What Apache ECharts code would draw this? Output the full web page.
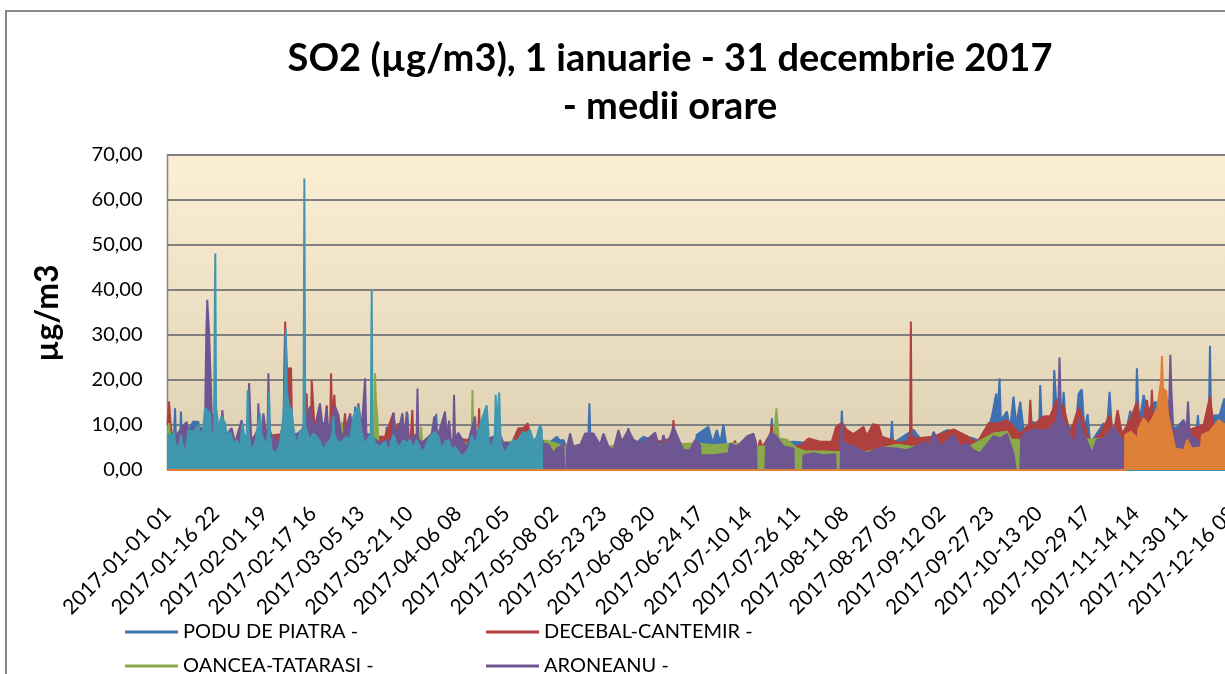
<!DOCTYPE html>
<html>
<head>
<meta charset="utf-8">
<script src="https://cdn.jsdelivr.net/npm/echarts@6/dist/echarts.min.js"></script>
<style>
  html, body { margin: 0; padding: 0; overflow: hidden; background: #fff; }
  #main { width: 1340px; height: 720px; }
</style>
</head>
<body>
<div id="main"></div>
<script>
// x = hours since 2017-01-01 01:00, y = µg/m3 (hourly means, key points)
var tickLabels = ['2017-01-01 01', '2017-01-16 22', '2017-02-01 19', '2017-02-17 16', '2017-03-05 13',
	'2017-03-21 10', '2017-04-06 08', '2017-04-22 05', '2017-05-08 02', '2017-05-23 23', '2017-06-08 20',
	'2017-06-24 17', '2017-07-10 14', '2017-07-26 11', '2017-08-11 08', '2017-08-27 05', '2017-09-12 02',
	'2017-09-27 23', '2017-10-13 20', '2017-10-29 17', '2017-11-14 14', '2017-11-30 11', '2017-12-16 08'];
var stationNames = ['PODU DE PIATRA -', 'DECEBAL-CANTEMIR -', 'OANCEA-TATARASI -', 'ARONEANU -', 'TOMESTI -', 'COPOU -'];

var poduDePiatra = [[0,6],[50,6],[59,13.7],[68,6],[98,6],[106,13],[115,6],[200,10.7],[243,10.7],[260,6],
	[1466,6],[1476,14.1],[1486,6],[1715,6],[1725,9.6],[1735,6],[1768,6],[1778,12.7],[1788,6],[1880,6],[1888,12.6],
	[1896,6],[2106,6],[2115,12.5],[2124,6],
	[2960,5],[3063,7.4],[3090,6.5],[3116,6.7],[3140,5],[3310,5],[3320,14.8],[3330,5],
	[3600,5],[3627,9.3],[3650,5],[3745,7.4],[3824,6.5],[3900,5],[4150,5],[4165,7.8],[4257,9.6],[4290,6],[4323,8.9],
	[4350,6],[4375,10],[4400,5],[4600,5],[4611,7.8],[4640,5],[4746,6],[4756,11.5],[4766,6],[4926,6.3],[5050,6],
	[5110,6],[5200,5.5],[5297,6],[5307,13.2],[5317,7],[5504,8.1],[5600,6],[5661,6.7],[5691,6],[5701,10.9],[5711,6],
	[5871,8.9],[5950,6],[6107,8.5],[6147,8.9],[6200,6],[6291,7.4],[6343,7],[6420,6],[6488,11.9],[6522,17],[6530,11],
	[6548,20.4],[6558,11],[6567,11],[6606,13],[6630,9],[6658,16.3],[6679,10],[6711,15.2],[6737,9],[6816,10.7],
	[6860,9],[6868,18.9],[6881,10],[6970,11],[6978,22.2],[6994,15],[7040,12],[7052,17.4],[7073,9],[7150,10],
	[7170,16.9],[7196,17.9],[7215,9],[7241,12.4],[7262,6],[7314,8.1],[7367,10.4],[7393,9],[7406,9],[7414,17.4],
	[7432,9],[7540,8],[7577,13.2],[7600,9],[7620,10],[7629,22.6],[7645,10],[7682,16.7],[7708,13],[7774,15.2],
	[7800,14],[7830,9],[7944,9.5],[7997,11.1],[8040,8],[8100,9],[8109,12.2],[8120,8],[8196,12],[8204,27.6],
	[8212,12],[8280,12.2],[8317,15.9],[8340,10],[8500,9],[8759,8]];

var decebalCantemir = [[0,10],[12,15.2],[25,10],[35,8],[46,6],[300,6],[915,8],[926,33],[933,33],[940,22],[956,22.6],
	[972,22.6],[980,10],[990,6],[1090,8],[1096,17],[1102,8],[1129,9],[1135,20],[1148,20.1],[1158,9],[1180,10.4],
	[1230,10.4],[1247,9],[1253,14.4],[1260,8],[1280,9],[1287,21.5],[1297,10],[1313,16.7],[1325,10],[1380,8],
	[1397,12.6],[1410,8],[1437,12.6],[1450,13],[1465,7],[1660,7.4],[1712,7.4],[1778,12.7],[1790,8],[1817,10.4],
	[1830,6],[1912,6],[1927,13.3],[1935,6],[2000,4.8],[2040,5.9],[2080,5.9],[2150,5],[2289,7],[2342,6.7],[2368,6.7],
	[2445,8],[2452,13.7],[2462,7],[2540,5.9],[2680,5.9],[2709,5.9],[2762,9.3],[2801,9.3],[2835,10.4],[2860,7],
	[2950,5],[3090,5],[3247,5.5],[3400,5],[3793,5.9],[3970,7],[3982,11.1],[3995,6],[4200,5],[4440,5],[4467,6.5],
	[4480,5],[4560,5],[4572,7.8],[4585,5],[4650,5],[4664,6.7],[4680,5],[4745,8],[4756,10],[4770,6],[4900,5],
	[4990,5.5],[5044,7],[5136,6.3],[5228,6.3],
	[5262,9.6],[5307,10.5],[5346,8.9],[5399,8],[5478,9.6],[5504,7.5],[5551,10.2],[5596,9.9],[5622,7.4],[5766,6],
	[5832,6.5],[5844,8],[5850,33],[5856,8],[5866,7],[6029,7.4],[6186,9],[6300,7.4],[6370,6],[6462,10.4],[6553,10.4],
	[6606,11.1],[6711,8],[6780,10],[6790,15.6],[6800,10],[6816,10],[6894,11.9],[6947,12],[6999,15.6],[7052,14],
	[7104,8],[7170,14],[7262,6],[7341,8],[7414,12.2],[7446,8],[7477,13.3],[7511,8],[7577,11.1],[7629,15.2],
	[7669,9],[7708,15.6],[7735,10],[7747,17.8],[7760,10],[7774,10],[7813,13],[7944,8],[8154,10],[8204,16.3],
	[8233,10],[8285,9],[8500,8],[8759,8]];

var oanceaTatarasi = [[0,7],[12,10.4],[25,6],[300,5],[1360,6],[1371,10.7],[1385,6],[1626,8],[1633,21.5],[1640,15.6],
	[1650,12],[1660,6],[1988,6],[1996,9.6],[2004,6],[2394,6],[2400,17.8],[2408,6],[2985,6.5],[3129,5.2],[3483,5.2],
	[4165,5.9],[4300,5.5],[4454,5.9],[4651,5.2],[4703,5.2],[4770,6],[4782,10],[4792,13.7],[4800,13.7],[4810,7],
	[4874,6.7],[4953,4.8],[5018,4.1],[5160,4.1],[5262,4],[5294,4],[5500,4],[5740,5.6],[5845,5.2],[6300,5],
	[6501,8.1],[6606,8.5],[6640,6.7],[6700,6.7],[6720,4],[7209,6.7],[7396,7],[7404,8.5],[7420,6],[8000,5],[8759,5]];

var aroneanu = [[0,6],[20,6],[151,10.7],[170,8],[190,9],[243,9.6],[295,9],[305,30],[313,37.8],[328,30],[340,20],
	[348,12.6],[374,11],[420,9],[432,13.3],[445,8],[466,8],[505,9.3],[531,6],[584,11.1],[600,6],[636,7],[642,19.3],
	[650,19.3],[660,6],[710,9],[715,14.8],[725,8],[741,7],[755,12.6],[776,8],[788,9],[794,21.5],[804,9],[815,8],
	[872,5.9],[912,10],[925,30],[940,20],[951,15],[977,13],[991,8],[1017,8],[1061,9],[1122,14.1],[1135,13.7],
	[1148,8],[1200,14.8],[1227,8],[1253,14.1],[1266,8],[1319,14.1],[1345,12.2],[1371,7],[1437,12.2],[1463,8],
	[1502,14.8],[1528,9],[1555,20.4],[1565,8],[1581,8],[1673,6],[1770,7],[1778,12.6],[1804,7],[1849,12.6],
	[1864,7],[1883,13],[1901,7],[1961,8],[1967,18.1],[1975,7],[2000,6],[2079,8],[2100,11.9],[2122,7],[2184,13],
	[2200,7],[2216,11],[2232,6],[2249,7],[2255,16.7],[2263,7],[2289,8.3],[2355,5],[2420,11.9],[2430,7],[2447,6],
	[2617,8],[2643,6],[2880,6],[2932,8],[2958,5.9],
	[2998,5.6],[3037,3.7],[3063,4.8],[3116,5.6],[3122,0],[3139,0],[3145,5.2],[3168,8.1],[3194,5.2],[3247,5.6],
	[3286,8.1],[3352,8.1],[3404,5.6],[3431,8.1],[3470,5.2],[3509,4.4],[3549,8.9],[3575,6.3],[3627,8.9],[3667,6.7],
	[3719,5.9],[3785,7],[3837,8.3],[3877,4.4],[3903,7.8],[3929,5.2],[3982,9.6],[4008,7.8],[4060,4.4],[4113,4.4],
	[4152,6.7],[4192,5.5],[4200,0],[4205,3.3],[4297,3.3],[4415,3.7],[4428,5.9],[4480,5.2],[4559,7.4],[4611,8.1],
	[4632,6],[4636,0],[4705,0],[4711,6],[4743,8.1],[4782,7.8],[4848,5.2],[4926,4.8],[4930,0],[5000,0],[5005,3.3],
	[5084,3.7],[5163,3.3],[5255,3.5],[5260,0],[5297,0],[5302,8],[5307,10.4],[5320,6],[5399,5.2],[5504,3.7],
	[5609,5],[5740,4.8],[5819,4.4],[5924,5.6],[5955,6.4],[5989,5],[6029,8.5],[6081,5.2],[6186,7.8],[6239,5.2],
	[6291,5.9],[6343,4.4],[6396,3.7],[6435,5.2],[6501,7.5],[6553,7],[6606,8],[6658,3.7],[6676,0],[6711,0],
	[6719,7],[6737,8.1],[6816,8.9],[6934,8.9],[6986,10.5],[6999,11.1],[7012,16],[7020,25],[7028,16],[7034,12],
	[7078,9.6],[7131,5.2],[7170,11.5],[7196,9],[7275,3.7],[7314,6.7],[7367,7],[7446,9.6],[7511,6.7],[7535,6],
	[7577,6],[7708,7],[7865,8],[7884,16],[7892,25.6],[7900,18],[7918,7],[7997,11.1],[8018,8],[8031,15.2],
	[8044,8],[8128,6],[8317,7],[8759,6]];

var tomesti = [[0,8.1],[7,8.1],[33,7.4],[50,8.5],[59,6.3],[85,4.4],[106,7.8],[125,4.8],[143,4.1],[164,8.9],[190,8.5],
	[216,8.9],[243,10],[264,6.7],[282,9.6],[295,13.7],[335,12.6],[348,5.2],[366,9],[372,34.4],[376,48.1],[382,14],
	[400,9.6],[426,11.9],[453,10.4],[466,7.4],[492,8.5],[518,5.9],[545,6.7],[571,4.4],[589,10.4],[610,6.7],[624,8],
	[631,17.8],[640,8],[657,4.4],[689,5.9],[728,12.6],[740,8],[754,6.7],[781,5.9],[792,8],[799,17.4],[806,8],
	[820,4.4],[859,3.7],[885,5.9],[912,11.9],[926,20],[932,31.3],[938,17],[960,14],[977,13.3],[990,9.6],
	[1017,5.2],[1043,8.5],[1070,9],[1077,64.8],[1084,10],[1096,8.5],[1122,6.7],[1148,8.1],[1174,7.4],[1200,6.3],
	[1227,4.4],[1253,5.9],[1279,6.7],[1298,8],[1305,11.9],[1312,8],[1332,6.7],[1358,5.9],[1384,6.7],[1410,7.4],
	[1437,6.3],[1463,11.9],[1502,14.1],[1528,8.1],[1555,5.6],[1586,7.4],[1600,8],[1607,40],[1614,8],[1633,5.9],
	[1673,5.2],[1712,6.3],[1738,4.1],[1778,7.8],[1804,5.6],[1830,5.2],[1856,6.7],[1883,5.9],[1909,6.7],[1935,4.8],
	[1961,6.7],[2001,4.1],[2027,4.8],[2053,6.7],[2080,7.8],[2106,8.5],[2132,7.4],[2158,4.4],[2184,6.3],[2211,6.7],
	[2237,4.4],[2263,5.2],[2289,4.1],[2316,3],[2342,3.7],[2373,4.8],[2394,7.8],[2420,5.6],[2447,8.5],[2473,11.1],
	[2499,13.3],[2512,14.4],[2531,5.9],[2552,4.8],[2576,8],[2583,16.7],[2596,10],[2610,17.2],[2620,8],[2631,5.2],
	[2657,3.7],[2683,5.2],[2722,6.7],[2749,6.3],[2775,7.4],[2801,8.5],[2827,8.1],[2853,8.9],[2880,6.3],[2906,7.4],
	[2932,10],[2945,9],[2948,0],[8759,0]];

var copou = [[0,0],[7535,0],[7538,7.8],[7580,8.5],[7620,7.4],[7630,4],[7640,9],[7682,11.5],[7720,10],[7760,11.9],
	[7790,14],[7800,16],[7820,20],[7826,25.3],[7834,18.1],[7860,17.5],[7875,12],[7905,8.1],[7930,4.8],[8000,4.4],
	[8023,6.7],[8060,4.8],[8120,5],[8128,2],[8140,7.8],[8200,8.5],[8273,11.1],[8325,10],[8500,9],[8759,8]];

var stationData = [poduDePiatra, decebalCantemir, oanceaTatarasi, aroneanu, tomesti, copou];
var stationColors = ['#3F70B0', '#B0403D', '#8AAA49', '#6E5692', '#4097B0', '#DE8037'];

var FONT = 'Lato, "Open Sans", sans-serif';

function buildChart() {
	var myChart = echarts.init(document.getElementById('main'));

	var series = [];
	for (var i = 0; i < stationData.length; i++) {
		series.push({
			name: stationNames[i],
			type: 'line',
			data: stationData[i],
			z: 2 + i, // later stations painted over earlier ones, like Excel
			clip: false,
			showSymbol: false,
			color: stationColors[i],
			lineStyle: { width: 2, color: stationColors[i] },
			areaStyle: { color: stationColors[i], opacity: 1 },
			emphasis: { disabled: true }
		});
	}

	// one legend per entry so the two columns line up
	var legendPos = [[125, 622], [486, 622], [125, 656], [486, 656], [125, 690], [486, 690]];
	var legends = [];
	for (var j = 0; j < stationNames.length; j++) {
		legends.push({
			data: [stationNames[j]],
			left: legendPos[j][0],
			top: legendPos[j][1],
			icon: 'rect',
			itemWidth: 53,
			itemHeight: 3,
			padding: 0,
			selectedMode: false,
			textStyle: { fontFamily: FONT, fontSize: 20, color: '#000' }
		});
	}

	option = {
		animation: false,
		title: {
			text: 'SO2 (µg/m3), 1 ianuarie - 31 decembrie 2017\n- medii orare',
			left: 'center',
			top: 30,
			textStyle: {
				fontFamily: FONT,
				fontSize: 38,
				fontWeight: 'bold',
				color: '#000',
				lineHeight: 48
			}
		},
		graphic: [{
			type: 'rect',
			shape: { x: 6, y: 11, width: 1326, height: 704 },
			style: { fill: null, stroke: '#888', lineWidth: 2 },
			silent: true
		}, {
			type: 'text',
			x: 48,
			y: 313,
			rotation: Math.PI / 2,
			style: {
				text: 'µg/m3',
				fontFamily: FONT,
				fontSize: 32,
				fontWeight: 'bold',
				fill: '#000',
				textAlign: 'center',
				textVerticalAlign: 'middle'
			}
		}],
		legend: legends,
		grid: {
			left: 167.5,
			top: 155,
			width: 1113,
			height: 315,
			show: true,
			borderColor: '#868686',
			borderWidth: 1.5,
			backgroundColor: {
				type: 'linear', x: 0, y: 0, x2: 0, y2: 1,
				colorStops: [
					{ offset: 0, color: '#FDEFD4' },
					{ offset: 1, color: '#DCCFB1' }
				]
			}
		},
		xAxis: {
			type: 'value',
			min: 0,
			max: 8759,
			interval: 381,
			axisLine: { show: false },
			axisTick: { show: false },
			splitLine: { show: false },
			axisLabel: {
				rotate: 45,
				margin: 40,
				showMaxLabel: false,
				fontFamily: FONT,
				fontSize: 21,
				color: '#000',
				formatter: function (v) {
					return tickLabels[Math.round(v / 381)] || '';
				}
			}
		},
		yAxis: {
			type: 'value',
			min: 0,
			max: 70,
			interval: 10,
			axisLine: { show: false },
			axisTick: { show: false },
			splitLine: { lineStyle: { color: '#808080', width: 2 } },
			axisLabel: {
				margin: 25,
				fontFamily: FONT,
				fontSize: 20,
				color: '#000',
				formatter: function (v) {
					return v.toFixed(2).replace('.', ',');
				}
			}
		},
		series: series
	};
	myChart.setOption(option);
}
buildChart();
</script>
</body>
</html>
